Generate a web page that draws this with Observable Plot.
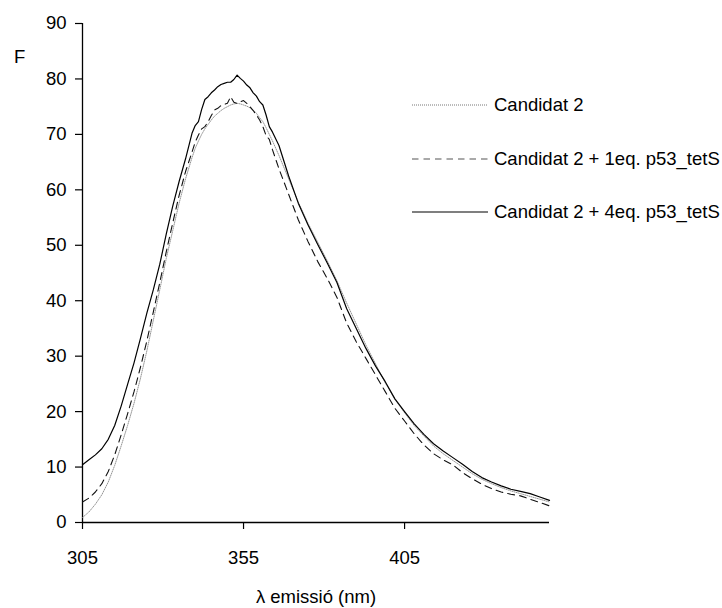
<!DOCTYPE html>
<html>
<head>
<meta charset="utf-8">
<script src="https://cdn.jsdelivr.net/npm/d3@7"></script>
<script src="https://cdn.jsdelivr.net/npm/@observablehq/plot@0.6"></script>
<style>
  body { margin: 0; background: #fff; font-family: "Liberation Sans", Arial, sans-serif; }
  #wrap { position: relative; width: 722px; height: 608px; }
  #flabel { position: absolute; left: 14px; top: 46px; font-size: 18.5px; color: #000; }
  #legend { position: absolute; left: 412px; top: 93px; font-size: 18.5px; color: #000; }
  .row { display: flex; align-items: center; height: 24px; margin-bottom: 29.5px; }
  .row svg { margin-right: 6px; }
</style>
</head>
<body>
<div id="wrap">
  <div id="chart"></div>
  <div id="flabel">F</div>
  <div id="legend"></div>
</div>
<script>
// Emission wavelength (nm)
const wavelengths = [305,307,309,311,313,315,317,319,321,323,325,327,329,331,333,335,337,339,
  340,341,342,343,344,345,346,347,348,349,350,351,352,353,354,355,356,357,358,359,360,361,362,363,364,
  366,369,372,375,378,381,384,387,390,393,396,399,402,405,408,411,414,417,420,423,426,429,432,435,438,441,444,447,450];

// Candidat 2 (dotted)
const cand2 = [0.9,1.9,3.3,5.0,7.3,10.3,13.8,17.5,21.5,26.0,31.0,36.5,42.0,47.6,52.6,57.6,62.0,65.8,
  67.5,68.8,70.0,71.0,71.8,72.6,73.3,73.8,74.3,74.7,75.0,75.3,75.5,75.6,75.5,75.3,75.1,74.8,74.4,73.8,73.0,72.3,71.2,70.0,68.8,
  66.2,62.0,57.8,54.0,50.6,47.2,43.6,39.6,35.8,32.0,28.6,25.2,22.2,19.8,17.5,15.6,13.8,12.4,11.2,10.0,8.8,7.8,7.0,6.3,5.7,5.2,4.7,4.2,3.7];

// Candidat 2 + 1eq. p53_tetS (dashed)
const cand2_1eq = [3.7,4.4,5.5,7.0,9.2,12.2,15.8,19.6,23.6,28.0,32.8,38.0,43.3,48.8,54.0,59.0,63.3,66.8,
  68.6,69.9,71.0,71.4,72.3,73.4,74.4,74.7,75.2,75.4,75.6,76.8,75.8,75.6,75.9,76.1,75.6,75.0,74.3,73.5,72.6,71.4,69.8,69.1,67.2,
  63.8,59.2,54.6,50.7,47.1,44.0,40.6,36.0,32.6,29.6,26.6,23.6,20.6,18.3,16.0,14.0,12.4,11.3,10.4,9.0,7.9,6.9,6.1,5.5,5.1,4.8,4.2,3.6,3.0];

// Candidat 2 + 4eq. p53_tetS (solid)
const cand2_4eq = [10.4,11.3,12.2,13.3,15.0,17.5,21.0,24.9,28.8,33.2,37.8,42.0,46.6,52.0,57.0,61.5,65.6,70.2,
  71.6,72.3,74.5,76.3,76.8,77.5,78.0,78.6,79.0,79.2,79.4,79.4,79.9,80.7,80.1,79.6,78.9,78.4,77.5,76.9,75.9,75.3,73.5,71.4,70.4,
  68.0,62.5,57.6,53.7,50.2,46.8,43.3,38.6,35.0,31.4,28.2,25.4,22.3,20.0,17.8,15.9,14.2,12.9,11.7,10.5,9.2,8.1,7.3,6.6,6.0,5.6,5.2,4.6,4.0];

const seriesNames = ["Candidat 2", "Candidat 2 + 1eq. p53_tetS", "Candidat 2 + 4eq. p53_tetS"];
const xTicks = [305, 355, 405];
const yTicks = [0, 10, 20, 30, 40, 50, 60, 70, 80, 90];

const styles = [
  {stroke: "#8a8a8a", strokeWidth: 0.9, dash: "1 1.2"},
  {stroke: "#111", strokeWidth: 1.1, dash: "7 5"},
  {stroke: "#000", strokeWidth: 1.2, dash: null}
];
const seriesValues = [cand2, cand2_1eq, cand2_4eq];

const lineMarks = seriesValues.map((vals, i) => {
  const rows = wavelengths.map((w, j) => ({w, v: vals[j]}));
  const opt = {x: "w", y: "v", stroke: styles[i].stroke, strokeWidth: styles[i].strokeWidth};
  if (styles[i].dash) opt.strokeDasharray = styles[i].dash;
  return Plot.line(rows, opt);
});

const chart = Plot.plot({
  width: 722,
  height: 608,
  marginLeft: 82,
  marginRight: 173,
  marginTop: 23,
  marginBottom: 86,
  style: {fontFamily: "'Liberation Sans', Arial, sans-serif", fontSize: "18.5px", color: "#000", background: "#fff"},
  x: {domain: [305, 450]},
  y: {domain: [0, 90]},
  marks: [
    Plot.ruleY([0], {stroke: "#000", strokeWidth: 1.3}),
    Plot.ruleX([305], {stroke: "#000", strokeWidth: 1.3}),
    ...lineMarks,
    Plot.axisY({ticks: yTicks, tickSize: 7, tickPadding: 9, label: null, stroke: "#000", strokeWidth: 1.2}),
    Plot.axisX({ticks: xTicks, tickSize: 7, tickPadding: 21, label: "λ emissió (nm)", labelAnchor: "center", labelArrow: "none", labelOffset: 80, stroke: "#000", strokeWidth: 1.2})
  ]
});
document.getElementById("chart").appendChild(chart);

// Legend
const legend = d3.select("#legend");
seriesNames.forEach((name, i) => {
  const row = legend.append("div").attr("class", "row");
  const s = row.append("svg").attr("width", 76).attr("height", 4);
  const ln = s.append("line").attr("x1", 0).attr("x2", 76).attr("y1", 2).attr("y2", 2)
    .attr("stroke", i === 0 ? "#777" : (i === 1 ? "#555" : "#000"))
    .attr("stroke-width", i === 0 ? 1 : 1.2);
  if (i === 0) ln.attr("stroke-dasharray", "1 1");
  if (i === 1) ln.attr("stroke-dasharray", "6.5 5");
  row.append("span").text(name);
});
</script>
</body>
</html>
